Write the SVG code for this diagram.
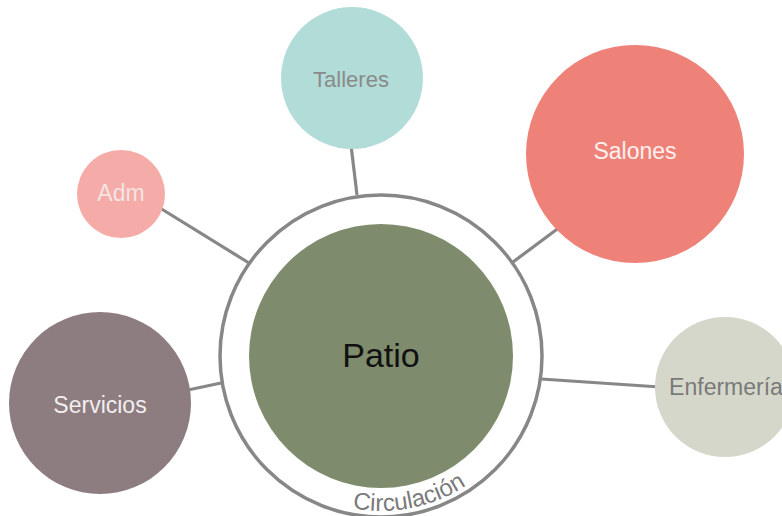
<svg xmlns="http://www.w3.org/2000/svg" width="782" height="516" viewBox="0 0 782 516">
<style>
.conn{stroke:#878787;stroke-width:3.2;fill:none;stroke-linecap:butt}
.lbl{font-family:"Liberation Sans",Arial,sans-serif;text-anchor:middle}
</style>
<defs>
<path id="circPath" d="M303.5,490.2 A155,155 0 0 0 499.7,455.6"/>
</defs>
<rect width="782" height="516" fill="#ffffff"/>
<g id="connectors">
<line class="conn" x1="160" y1="208" x2="249" y2="263"/>
<line class="conn" x1="351" y1="145" x2="357" y2="195"/>
<line class="conn" x1="560" y1="227" x2="513" y2="262"/>
<line class="conn" x1="541" y1="379" x2="660" y2="387"/>
<line class="conn" x1="188" y1="390" x2="221" y2="383"/>
</g>
<g id="circulacion">
<circle cx="381" cy="356" r="161" fill="none" stroke="#878787" stroke-width="3.5"/>
<text class="lbl" font-size="24" fill="#7a7a7a"><textPath href="#circPath" startOffset="112">Circulación</textPath></text>
</g>
<g id="patio">
<circle cx="381" cy="356" r="132" fill="#7e8b6c"/>
<text class="lbl" x="381" y="367" font-size="34" fill="#111111">Patio</text>
</g>
<g id="talleres">
<circle cx="352" cy="78" r="71" fill="#b2dcd7"/>
<text class="lbl" x="351" y="87" font-size="22" fill="#8a8a8a">Talleres</text>
</g>
<g id="salones">
<circle cx="635" cy="154" r="109" fill="#ef8278"/>
<text class="lbl" x="635" y="159" font-size="23" fill="#fdf1ef">Salones</text>
</g>
<g id="adm">
<circle cx="121" cy="194" r="44" fill="#f5aba8"/>
<text class="lbl" x="121" y="201" font-size="23" fill="#f3e4e3">Adm</text>
</g>
<g id="servicios">
<circle cx="100" cy="403" r="91" fill="#8d7d80"/>
<text class="lbl" x="100" y="413" font-size="23" fill="#f3eeee">Servicios</text>
</g>
<g id="enfermeria">
<circle cx="725" cy="387" r="70" fill="#d5d7ca"/>
<text class="lbl" x="726" y="395" font-size="23" fill="#7a7a7a">Enfermería</text>
</g>
</svg>
